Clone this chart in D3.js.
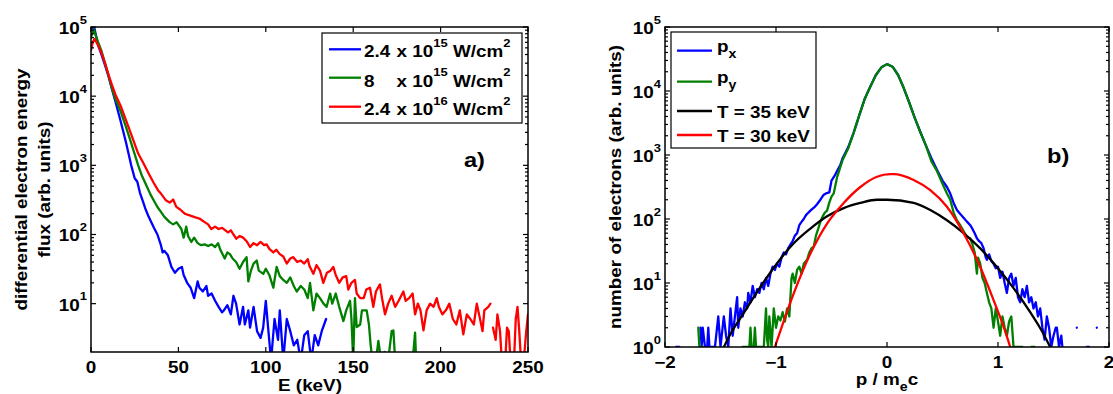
<!DOCTYPE html>
<html>
<head>
<meta charset="utf-8">
<script src="https://cdn.jsdelivr.net/npm/d3@7"></script>
<style>
  body { margin: 0; background: #fff; }
  svg { display: block; font-family: "Liberation Sans", Arial, Helvetica, sans-serif; font-weight: bold; }
</style>
</head>
<body>
<svg id="fig" width="1113" height="394"></svg>
<script>
// ---- panel a) : electron energy spectra, [E (keV), flux] ----
const flux24e15 = [[0,90000],[1,100000],[2,95000],[4,55000],[6,40000],[8,28000],[10,19500],[12,12600],[14,8300],[17,4300],[20,2150],[23,1000],[25,650],[26.5,580],[28,400],[29.7,300],[31,240],[33,180],[34.5,150],[36,125],[38,100],[40,70],[41,55],[42,58],[44,50],[46,34],[48,28],[50,32],[52,34],[53,26],[55,20],[57,17],[59,12],[61,21],[62,17],[64,15],[66,18],[67,13],[69,14],[71,11],[73,9],[75,7.5],[76,8],[78,9.5],[80,7],[81.5,13],[83,10],[85,5],[87,9],[88,5],[90,8],[91,4.5],[93,9],[95,4],[97,3.2],[98.5,4.5],[100,11],[101.5,4],[103,1.5],[105,6],[107,3],[108,8],[110,1.5],[112,6],[114,4],[116,2.5],[118,3],[120,1.5],[122,3.5],[124,4],[126,1.5],[128,3.5],[130,2.5],[132,4],[134.5,6]];

const flux8e15 = [[0,70000],[1.5,93000],[4,61000],[6,45000],[8,30000],[10,20000],[12,13000],[14,9000],[17,6000],[20,3600],[23,2100],[27,1000],[29,720],[31.7,510],[34,380],[36.4,295],[38,250],[40.2,209],[42,180],[45,151],[47,140],[49,150],[51.7,120],[53,90],[54.5,130],[55.5,95],[57.4,78],[59,90],[61,75],[63,70],[65,72],[67,68],[69,72],[71,66],[72.7,75],[74,60],[76.5,45],[78,55],[79.5,52],[81,45],[83,40],[85,32],[87,40],[89,47],[90,21],[91.5,30],[93,38],[94.8,42],[96,30],[98.6,27],[100,32],[102,26],[104.3,17],[106.2,34],[108,25],[110,22],[112,20],[114,24],[116,18],[117.7,15],[120,18],[122,16],[124,12],[125.3,20],[127.2,8],[129,14],[131,12],[133,10],[134.8,9],[136.8,14],[138,10],[140,14],[142,9],[144.4,5.6],[146,8],[148.2,11],[149,6],[150,1.5],[151,12],[152,4.6],[154,5],[155,8],[157.7,8],[159,5],[160,2.5],[161,1.5],[163,1.5],[164.4,2.9],[166,1.5],[168,2],[170,1.5],[172,4],[173,4.1],[174,1.5],[184,1.5],[185.4,3.8],[186,1.5]];

const flux24e16 = [[0,46000],[1,60000],[2,67000],[4,55000],[6,42000],[8,30000],[10,20500],[12,14500],[14,10500],[17.3,6900],[20,4500],[23,2800],[27,1480],[30,1070],[33.5,720],[36,550],[38.3,437],[40,390],[43,309],[45,290],[47,320],[48.8,251],[51,230],[53.6,200],[56,190],[59.3,178],[62,170],[65,151],[67,140],[68.8,120],[71,130],[73,120],[75,125],[78.4,107],[80,115],[81.5,100],[83.1,87],[85,95],[87,90],[89,80],[91,66],[93,75],[95,70],[97,78],[99,70],[100.5,72],[102,62],[104.3,55],[106,60],[108,52],[110,48],[112,38],[114,45],[115.7,47],[118,40],[120,42],[122,38],[124,44],[125,35],[127.2,27],[129,36],[131,30],[132.9,20],[135,28],[137,30],[138.6,34],[140,26],[142,20],[144,24],[146,25],[147.2,16],[149,20],[151,22],[152,14],[154,12],[156,12],[157.5,16],[159.6,17],[161.5,9],[163,15],[165.3,19],[166.5,12],[168.2,7],[170,10],[172,13],[174,9],[176,11],[178.7,15],[180,11],[182,12],[184,14],[185.4,7],[187,10],[188.5,8],[190.2,4.1],[192,8],[194,10],[196,9],[197.8,12],[199,9],[201,7],[203,8],[205,10],[207,6],[209,5],[211,8],[213,3.6],[215,7],[217,6],[219,5],[220.7,10],[222,7],[224,4],[225,8],[227.3,9],[228.5,10],[229,null],[230,4.5],[231.5,3],[232.5,7],[234,4],[235,1.5],[237,1.5],[238,4.5],[239,4],[240,1.5],[242,1.5],[243,6],[244,9],[245,4],[246,1.5],[248,2],[249,4],[250,7]];

const energyTicks = [0, 50, 100, 150, 200, 250];
const fluxDecades = [1e1, 1e2, 1e3, 1e4, 1e5];
const legendA = [
  {name: "2.4", exp: "15", color: "#0000ff"},
  {name: "8", exp: "15", color: "#007f00"},
  {name: "2.4", exp: "16", color: "#ff0000"}
];

// ---- panel b) : momentum distributions, [p / m_e c, number] ----
const pxCounts = [[-1.90,1],[-1.87,1],[-1.86,null],[-1.68,2],[-1.67,1],[-1.66,2],[-1.64,1],[-1.62,1],[-1.61,2],[-1.60,1],[-1.57,1],[-1.55,1],[-1.52,3],[-1.50,1],[-1.47,3],[-1.45,1.5],[-1.43,1],[-1.41,4],[-1.39,1.5],[-1.37,3],[-1.35,6],[-1.34,2],[-1.32,4],[-1.30,3],[-1.28,5],[-1.26,4],[-1.25,7],[-1.23,5],[-1.21,9],[-1.19,6],[-1.17,8],[-1.15,7],[-1.13,10],[-1.11,8],[-1.09,12],[-1.07,9],[-1.05,14],[-1.03,18],[-1.01,16],[-0.99,20],[-0.97,18],[-0.95,25],[-0.93,30],[-0.91,28],[-0.89,35],[-0.87,40],[-0.85,45],[-0.83,55],[-0.81,60],[-0.79,80],[-0.77,90],[-0.75,100],[-0.73,115],[-0.71,125],[-0.69,135],[-0.67,145],[-0.65,155],[-0.63,170],[-0.60,200],[-0.57,240],[-0.55,251],[-0.52,260],[-0.50,398],[-0.47,480],[-0.45,562],[-0.42,700],[-0.40,891],[-0.35,1318],[-0.30,2239],[-0.25,4169],[-0.20,7586],[-0.15,11750],[-0.10,17780],[-0.05,23440],[0,26300],[0.05,23990],[0.10,17780],[0.15,11220],[0.20,6607],[0.25,3802],[0.30,2291],[0.35,1413],[0.40,891],[0.45,589],[0.50,398],[0.54,316],[0.57,250],[0.60,178],[0.63,138],[0.66,120],[0.69,105],[0.72,91],[0.75,80],[0.77,70],[0.79,60],[0.81,50],[0.83,45],[0.85,42],[0.87,35],[0.89,25],[0.90,23],[0.92,28],[0.94,22],[0.96,20],[0.98,17],[1.00,18],[1.02,12],[1.04,15],[1.06,10],[1.08,7],[1.10,12],[1.12,14],[1.14,9],[1.16,12],[1.18,6],[1.20,5],[1.22,8],[1.24,6],[1.26,9],[1.28,5],[1.30,6],[1.32,4],[1.34,5],[1.36,3],[1.38,4],[1.40,2],[1.42,1.3],[1.44,3],[1.46,2],[1.48,1],[1.50,1.5],[1.52,2],[1.53,2],[1.55,1],[1.57,1.5],[1.58,1],[1.59,null],[1.71,2],[1.72,null],[1.80,1],[1.82,1],[1.83,null],[1.89,2],[1.90,null]];

const pyCounts = [[-1.70,2],[-1.69,1],[-1.66,1],[-1.65,null],[-1.30,1],[-1.24,1],[-1.23,2],[-1.22,1],[-1.20,1],[-1.19,2],[-1.18,1],[-1.11,1],[-1.09,4],[-1.08,1.3],[-1.07,1],[-1.06,3],[-1.04,1],[-1.02,4],[-1.00,2],[-0.98,3],[-0.96,2.6],[-0.94,3.5],[-0.92,2.5],[-0.90,4],[-0.88,3],[-0.86,12],[-0.85,14],[-0.83,10],[-0.81,16],[-0.79,18],[-0.77,14],[-0.75,20],[-0.72,23],[-0.70,30],[-0.68,35],[-0.66,37],[-0.64,55],[-0.62,70],[-0.60,91],[-0.58,110],[-0.56,126],[-0.54,135],[-0.52,180],[-0.50,224],[-0.48,251],[-0.45,447],[-0.42,650],[-0.40,832],[-0.35,1259],[-0.30,2239],[-0.25,4169],[-0.20,7586],[-0.15,11750],[-0.10,17780],[-0.05,23440],[0,26300],[0.05,23990],[0.10,17780],[0.15,11220],[0.20,6607],[0.25,3802],[0.30,2291],[0.35,1413],[0.40,794],[0.45,562],[0.50,355],[0.54,251],[0.57,200],[0.60,126],[0.63,95],[0.66,80],[0.69,65],[0.72,52],[0.75,50],[0.77,40],[0.79,30],[0.81,14],[0.82,25],[0.84,20],[0.86,12],[0.88,10],[0.90,7],[0.92,5],[0.94,4],[0.96,2],[0.98,4],[1.00,2.5],[1.02,1.5],[1.04,3],[1.06,2],[1.08,1.5],[1.10,2.5],[1.12,3],[1.14,1],[1.22,1],[1.23,null],[1.30,1],[1.33,1],[1.34,null]];

const fitT35 = [[-1.47,1],[-1.41,1.6],[-1.29,3.4],[-1.14,8.7],[-0.99,20.4],[-0.84,41.7],[-0.69,70.8],[-0.54,110],[-0.39,148],[-0.24,178],[-0.09,200],[0,200],[0.24,178],[0.39,138],[0.54,95.5],[0.69,60.3],[0.84,34.7],[0.99,17.8],[1.14,8.3],[1.29,3.5],[1.41,1.6],[1.47,1]];
const fitT30 = [[-1.01,1],[-0.84,6.9],[-0.69,28.8],[-0.54,85],[-0.39,178],[-0.24,316],[-0.09,457],[0.03,501],[0.06,501],[0.24,407],[0.39,282],[0.54,155],[0.69,60],[0.84,17.8],[0.96,5.4],[1.05,2.1],[1.11,1]];

const momentumTicks = [-2, -1, 0, 1, 2];
const countDecades = [1e0, 1e1, 1e2, 1e3, 1e4, 1e5];
const legendB = [
  {name: "p", sub: "x", color: "#0000ff"},
  {name: "p", sub: "y", color: "#007f00"},
  {name: "T = 35 keV", color: "#000000"},
  {name: "T = 30 keV", color: "#ff0000"}
];

const svg = d3.select("#fig");
const SX = 1.18; // glyphs in the figure are stretched sideways

function txt(parent, x, y, size, anchor, rot) {
  return parent.append("text")
    .attr("transform", `translate(${x},${y})` + (rot ? ` rotate(${rot})` : "") + ` scale(${SX},1)`)
    .attr("font-size", size)
    .attr("text-anchor", anchor || "start");
}

function axes(id, x, y, xTicks, xLabelFn, decades) {
  const [x0, x1] = x.range();
  const [yb, yt] = y.range();
  const g = svg.append("g");
  g.append("clipPath").attr("id", id).append("rect")
    .attr("x", x0).attr("y", yt).attr("width", x1 - x0).attr("height", yb - yt);
  const plot = g.append("g").attr("clip-path", `url(#${id})`);

  const frame = svg.append("g").attr("stroke", "#000").attr("stroke-width", 1.2);
  // x ticks top and bottom
  xTicks.forEach(t => {
    frame.append("line").attr("x1", x(t)).attr("x2", x(t)).attr("y1", yb).attr("y2", yb - 5);
    frame.append("line").attr("x1", x(t)).attr("x2", x(t)).attr("y1", yt).attr("y2", yt + 5);
    txt(svg, x(t), yb + 21, 16, "middle").text(xLabelFn(t));
  });
  // log y ticks, major and minor, both sides
  const [dmin, dmax] = y.domain();
  decades.forEach(d => {
    for (let m = 1; m < 10; m++) {
      const v = d * m;
      if (v < dmin || v > dmax) continue;
      const len = m === 1 ? 5 : 3;
      frame.append("line").attr("x1", x0).attr("x2", x0 + len).attr("y1", y(v)).attr("y2", y(v));
      frame.append("line").attr("x1", x1).attr("x2", x1 - len).attr("y1", y(v)).attr("y2", y(v));
    }
    const lab = txt(svg, x0 - 4, y(d) + 7, 16, "end");
    lab.append("tspan").text("10");
    lab.append("tspan").attr("font-size", 11).attr("dy", -10.5).text(Math.round(Math.log10(d)));
  });
  frame.append("rect").attr("x", x0).attr("y", yt).attr("width", x1 - x0).attr("height", yb - yt)
    .attr("fill", "none").attr("stroke-width", 1.5);
  return plot;
}

function trace(plot, data, x, y, color, curve) {
  const line = d3.line()
    .defined(d => d[1] != null)
    .x(d => x(d[0])).y(d => y(d[1]))
    .curve(curve || d3.curveLinear);
  plot.append("path").datum(data)
    .attr("d", line)
    .attr("fill", "none").attr("stroke", color).attr("stroke-width", 2.3)
    .attr("stroke-linejoin", "round").attr("stroke-linecap", "round");
}

// ---------- panel a ----------
const xa = d3.scaleLinear().domain([0, 250]).range([91, 528]);
const ya = d3.scaleLog().domain([2, 1e5]).range([352, 27]);
const plotA = axes("clipA", xa, ya, energyTicks, t => String(t), fluxDecades);
trace(plotA, flux24e15, xa, ya, legendA[0].color);
trace(plotA, flux8e15, xa, ya, legendA[1].color);
trace(plotA, flux24e16, xa, ya, legendA[2].color);

txt(svg, 310, 390.5, 16, "middle").text("E (keV)");
txt(svg, 27, 189.5, 16, "middle", -90).text("differential electron energy");
txt(svg, 50, 189.5, 16, "middle", -90).text("flux (arb. units)");
txt(svg, 464, 166.5, 20, "start").text("a)");

const legA = svg.append("g");
legA.append("rect").attr("x", 322).attr("y", 33).attr("width", 200).attr("height", 90)
  .attr("fill", "#fff").attr("stroke", "#000").attr("stroke-width", 1.2);
const legAlines = [49.3, 77.7, 106.7], legAbase = [57.3, 86.8, 115];
legendA.forEach((d, i) => {
  legA.append("line").attr("x1", 329).attr("x2", 361).attr("y1", legAlines[i]).attr("y2", legAlines[i])
    .attr("stroke", d.color).attr("stroke-width", 2.3);
  txt(legA, 364, legAbase[i], 16).text(d.name);
  const t = txt(legA, 396.5, legAbase[i], 16);
  t.append("tspan").text("x 10");
  t.append("tspan").attr("font-size", 11).attr("dy", -10.5).text(d.exp);
  t.append("tspan").attr("dy", 10.5).text(" W/cm");
  t.append("tspan").attr("font-size", 11).attr("dy", -10.5).text("2");
});

// ---------- panel b ----------
const xb = d3.scaleLinear().domain([-2, 2]).range([665, 1109]);
const yb = d3.scaleLog().domain([1, 1e5]).range([347, 27]);
const plotB = axes("clipB", xb, yb, momentumTicks, t => t < 0 ? "\u2212" + (-t) : String(t), countDecades);
trace(plotB, pxCounts, xb, yb, legendB[0].color);
trace(plotB, pyCounts, xb, yb, legendB[1].color);
trace(plotB, fitT35, xb, yb, legendB[2].color, d3.curveMonotoneX);
trace(plotB, fitT30, xb, yb, legendB[3].color, d3.curveMonotoneX);

const xl = txt(svg, 887, 385, 16, "middle");
xl.append("tspan").text("p / m");
xl.append("tspan").attr("font-size", 12).attr("dy", 6).text("e");
xl.append("tspan").attr("dy", -6).text("c");
txt(svg, 621, 187, 16, "middle", -90).text("number of electrons (arb. units)");
txt(svg, 1047, 163, 20, "start").text("b)");

const legB = svg.append("g");
legB.append("rect").attr("x", 671).attr("y", 32).attr("width", 145).attr("height", 116)
  .attr("fill", "#fff").attr("stroke", "#000").attr("stroke-width", 1.2);
const legBlines = [50.7, 81.7, 111, 135], legBbase = [51.8, 83.3, 118, 141.7];
legendB.forEach((d, i) => {
  legB.append("line").attr("x1", 677).attr("x2", 712).attr("y1", legBlines[i]).attr("y2", legBlines[i])
    .attr("stroke", d.color).attr("stroke-width", 2.3);
  const t = txt(legB, 717, legBbase[i], 16);
  t.append("tspan").text(d.name);
  if (d.sub) t.append("tspan").attr("font-size", 12).attr("dy", 6).text(d.sub);
});
</script>
</body>
</html>
